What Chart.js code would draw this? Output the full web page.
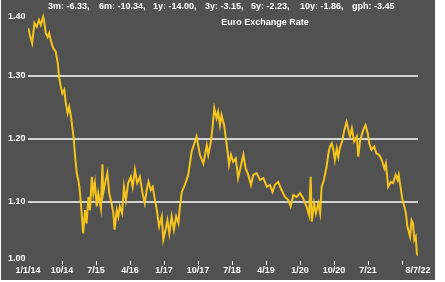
<!DOCTYPE html>
<html>
<head>
<meta charset="utf-8">
<script src="https://cdn.jsdelivr.net/npm/chart.js@4.4.1/dist/chart.umd.min.js"></script>
<style>
    html, body { margin: 0; padding: 0; background: #ffffff; }
    #wrap { width: 445px; height: 282px; }
</style>
</head>
<body>
<div id="wrap"><canvas id="rateChart" width="445" height="282"></canvas></div>
<script>
// months since 1/1/14 and the euro rate
const months = [
    0.1, 0.5, 1.1, 1.7, 2.3, 2.9, 3.4, 4.0, 4.3, 4.7, 5.2, 5.6, 6.1, 6.7, 7.3, 7.9, 8.2, 8.7,
    9.1, 9.6, 10.0, 10.5, 10.9, 11.4, 11.7, 12.1, 12.4, 12.9, 13.3, 13.6, 14.0, 14.4, 14.6,
    15.1, 15.5, 16.0, 16.4, 16.9, 17.3, 17.7, 18.2, 18.6, 19.3, 19.7, 19.9, 20.4, 21.0, 21.5,
    22.1, 22.6, 22.9, 23.5, 23.9, 24.3, 24.9, 25.4, 25.9, 26.5, 27.2, 27.7, 28.3, 28.9, 29.6,
    30.3, 30.9, 31.4, 31.9, 32.5, 33.0, 33.6, 34.1, 34.7, 35.4, 35.8, 36.4, 36.9, 37.4, 38.0,
    38.6, 39.2, 39.8, 40.2, 40.7, 41.5, 42.4, 43.3, 44.2, 44.6, 45.5, 46.4, 47.3, 47.7, 48.4,
    48.8, 49.3, 49.9, 50.3, 50.8, 51.2, 51.9, 52.6, 53.2, 53.7, 54.3, 55.0, 55.6, 56.4, 57.0,
    57.6, 58.3, 59.0, 59.6, 60.5, 61.4, 62.3, 63.2, 64.0, 64.7, 65.3, 66.2, 67.1, 68.0, 68.9,
    69.5, 70.2, 71.1, 72.0, 72.8, 73.7, 74.4, 74.8, 75.1, 75.7, 76.2, 76.8, 77.3, 77.7, 78.3,
    79.0, 79.5, 79.9, 80.4, 80.8, 81.2, 81.7, 82.1, 82.5, 83.2, 83.7, 84.3, 84.8, 85.2, 85.7,
    86.3, 87.0, 87.4, 87.9, 88.7, 89.3, 89.9, 90.3, 90.9, 91.6, 92.2, 92.9, 93.6, 94.3, 94.7,
    95.3, 96.0, 96.6, 97.3, 97.8, 98.1, 98.7, 99.1, 99.6, 100.0, 100.4, 101.1, 101.5, 101.9,
    102.2, 102.6, 102.9, 103.2
];
const rates = [
    1.376, 1.365, 1.352, 1.384, 1.378, 1.389, 1.381, 1.394, 1.386, 1.368, 1.362, 1.368, 1.355, 1.344, 1.339, 1.320, 1.299, 1.283,
    1.272, 1.278, 1.257, 1.241, 1.251, 1.235, 1.220, 1.201, 1.177, 1.146, 1.135, 1.124, 1.098, 1.066, 1.050,
    1.087, 1.066, 1.108, 1.087, 1.140, 1.114, 1.130, 1.093, 1.114, 1.090, 1.160, 1.114, 1.130, 1.146, 1.114,
    1.098, 1.082, 1.056, 1.087, 1.077, 1.093, 1.082, 1.124, 1.103, 1.130, 1.140, 1.124, 1.151, 1.130, 1.140,
    1.114, 1.098, 1.119, 1.132, 1.119, 1.124, 1.103, 1.087, 1.061, 1.077, 1.040, 1.056, 1.071, 1.050, 1.077,
    1.056, 1.077, 1.066, 1.093, 1.116, 1.127, 1.143, 1.180, 1.196, 1.204, 1.175, 1.161, 1.190, 1.175, 1.196,
    1.217, 1.249, 1.233, 1.243, 1.222, 1.238, 1.222, 1.190, 1.159, 1.175, 1.164, 1.169, 1.138, 1.159, 1.175,
    1.153, 1.143, 1.127, 1.143, 1.146, 1.135, 1.138, 1.124, 1.127, 1.116, 1.127, 1.132, 1.119, 1.108, 1.103,
    1.093, 1.111, 1.108, 1.114, 1.106, 1.093, 1.079, 1.140, 1.069, 1.098, 1.082, 1.098, 1.082, 1.124, 1.135,
    1.156, 1.177, 1.188, 1.193, 1.183, 1.167, 1.185, 1.172, 1.185, 1.198, 1.214, 1.227, 1.214, 1.204, 1.217,
    1.196, 1.204, 1.172, 1.198, 1.214, 1.222, 1.209, 1.193, 1.183, 1.188, 1.177, 1.175, 1.167, 1.153, 1.161,
    1.124, 1.132, 1.130, 1.143, 1.135, 1.143, 1.119, 1.103, 1.093, 1.082, 1.061, 1.045, 1.071, 1.066,
    1.040, 1.045, 1.019, 1.015
];

// x ticks every 9 months, the last label sits at the final date
const tickMonths = [9, 18, 27, 36, 45, 54, 63, 72, 81, 90, 99];
const labelMonths = [0, 9, 18, 27, 36, 45, 54, 63, 72, 81, 90, 103.2];
const xLabels = ['1/1/14', '10/14', '7/15', '4/16', '1/17', '10/17', '7/18', '4/19', '1/20', '10/20', '7/21', '8/7/22'];

const yTicks = [1.00, 1.10, 1.20, 1.30, 1.40];
const yGrid = [1.10, 1.20, 1.30];

const chartTitle = 'Euro Exchange Rate';
const stats = ['3m: -6.33,', '6m: -10.34,', '1y: -14.00,', '3y: -3.15,', '5y: -2.23,', '10y: -1.86,', 'gph: -3.45'];
const statsX = [48, 99, 153, 205, 251, 300, 352];

const FONT = 'bold 9px "Liberation Sans", Arial, sans-serif';
const TEXT = '#ffffff';

const framePlugin = {
    id: 'frame',
    beforeDraw(chart) {
        const ctx = chart.ctx;
        ctx.save();
        ctx.fillStyle = '#ffffff';
        ctx.fillRect(0, 0, chart.width, chart.height);
        ctx.fillStyle = '#515151';
        ctx.fillRect(1, 0, 434, 280);
        ctx.restore();
    },
    beforeDatasetsDraw(chart) {
        const ctx = chart.ctx;
        const area = chart.chartArea;
        const y = chart.scales.y;
        ctx.save();
        ctx.strokeStyle = '#ffffff';
        ctx.lineWidth = 1.5;
        yGrid.forEach(v => {
            const py = Math.round(y.getPixelForValue(v));
            ctx.beginPath();
            ctx.moveTo(area.left, py);
            ctx.lineTo(area.right, py);
            ctx.stroke();
        });
        ctx.restore();
    },
    afterDraw(chart) {
        const ctx = chart.ctx;
        const area = chart.chartArea;
        const x = chart.scales.x;
        const y = chart.scales.y;
        ctx.save();
        ctx.font = FONT;
        ctx.fillStyle = TEXT;

        // y labels, end labels pulled inside the plot
        ctx.textAlign = 'left';
        ctx.textBaseline = 'middle';
        yTicks.forEach(v => {
            let py = y.getPixelForValue(v);
            py = Math.min(Math.max(py, area.top + 4), area.bottom - 6);
            ctx.fillText(v.toFixed(2), 8, py);
        });

        // x tick marks and labels
        ctx.strokeStyle = '#ffffff';
        ctx.lineWidth = 1;
        tickMonths.forEach(m => {
            const px = Math.round(x.getPixelForValue(m)) + 0.5;
            ctx.beginPath();
            ctx.moveTo(px, area.bottom - 4);
            ctx.lineTo(px, area.bottom);
            ctx.stroke();
        });
        ctx.textAlign = 'center';
        labelMonths.forEach((m, i) => {
            ctx.fillText(xLabels[i], x.getPixelForValue(m), area.bottom + 6);
        });

        // header
        ctx.textAlign = 'left';
        stats.forEach((s, i) => ctx.fillText(s, statsX[i], 7));
        ctx.textAlign = 'center';
        ctx.fillText(chartTitle, 265, 23);
        ctx.restore();
    }
};

const ctx = document.getElementById('rateChart').getContext('2d');
new Chart(ctx, {
    type: 'line',
    data: {
        datasets: [{
            data: months.map((m, i) => ({ x: m, y: rates[i] })),
            borderColor: '#f4c41c',
            borderWidth: 2,
            pointRadius: 0,
            tension: 0,
            fill: false
        }]
    },
    options: {
        responsive: false,
        animation: false,
        devicePixelRatio: 1,
        layout: { padding: { left: 28, top: 13, right: 27, bottom: 17 } },
        plugins: {
            legend: { display: false },
            tooltip: { enabled: false }
        },
        scales: {
            x: { type: 'linear', min: 0, max: 103.2, display: false },
            y: { min: 1.0, max: 1.4, display: false }
        }
    },
    plugins: [framePlugin]
});
</script>
</body>
</html>
